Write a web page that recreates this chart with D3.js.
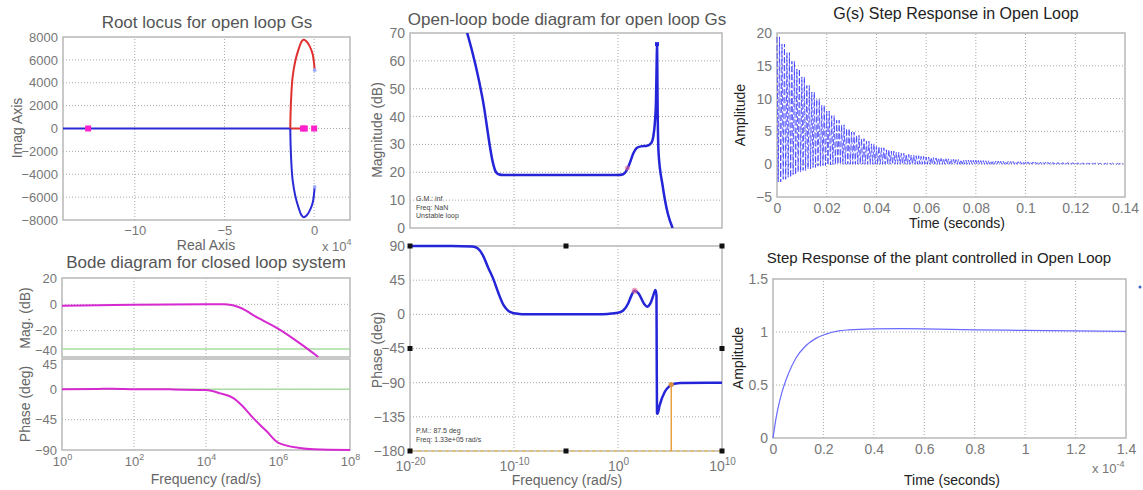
<!DOCTYPE html>
<html>
<head>
<meta charset="utf-8">
<script src="https://cdn.jsdelivr.net/npm/d3@7"></script>
<style>
  body { margin: 0; background: #fff; }
  svg { display: block; font-family: "Liberation Sans", Arial, sans-serif; }
</style>
</head>
<body>
<svg width="1143" height="490"></svg>
<script>
(function (d3) {
  'use strict';

  // ---- root locus (real part in units of 1e4) ----
  var rlPoles = [-12.6, -0.62, -0.52, 0];
  var rlAxisBlue = [-14, -1.33];
  var rlAxisRed = [-1.33, -0.6];
  var rlRe = [-1.33, -1.31, -1.27, -1.2, -1.05, -0.85, -0.7, -0.58, -0.42, -0.25, -0.08, 0.03];
  var rlIm = [0, 1500, 3000, 4500, 5900, 7000, 7600, 7750, 7600, 7200, 6500, 5100];

  // ---- closed loop bode ----
  var clMagExp = [0, 1, 2, 3, 4, 4.5, 4.7, 4.9, 5.1, 5.3, 5.6, 6, 6.6, 7.12];
  var clMag = [-1, -0.7, -0.3, -0.1, 0, 0, -0.5, -2, -4.5, -8, -12.5, -18.5, -29.5, -40];
  var clPhExp = [0, 1, 1.4, 2, 3, 4, 4.4, 4.76, 5, 5.3, 5.7, 6, 6.6, 7, 8];
  var clPh = [0, 0.5, 1, 0.3, 0, -1, -6, -13, -24, -42, -63, -79, -87, -89, -90];
  var clMagRef = -34, clPhRef = 0;

  // ---- open loop bode ----
  var olMagExp = [-15, -14.5, -13, -12, -11.8, -11.5, -11, -5, 0, 0.5, 0.8, 1.1, 1.5, 1.8, 2.2, 2.8, 3.2, 3.4, 3.55, 3.65, 3.72, 3.75, 3.82, 3.9, 4.3, 4.8, 5.25];
  var olMag = [76, 70, 46, 23, 20.5, 19.3, 19, 19, 19, 19.3, 20.5, 23, 27, 28.7, 29.3, 29.5, 30.5, 33, 38, 45, 60, 66, 40, 27, 15, 5, 0];
  var olPhExp = [-20, -16, -14, -13.5, -13, -12.5, -12, -11.5, -11, -10.5, -10, -9.5, -9, -5, -2, -1, 0, 0.5, 1, 1.3, 1.6, 2, 2.5, 2.8, 3.1, 3.4, 3.6, 3.7, 3.72, 3.75, 3.8, 4, 4.5, 5, 5.12, 6, 10];
  var olPh = [90, 90, 89.5, 87, 78, 62, 47, 28, 12, 4, 1.5, 0.5, 0, 0, 0, 0.5, 2, 5, 15, 25, 31, 27, 14, 10, 14, 25, 32, 25, -45, -130, -131, -120, -102, -94, -92.5, -90.5, -90];
  var olPmExp = 5.12, olPmPh = -92.5;
  var olHandleExp = [-20, -5, 10, -20, 10, -20, -5, 10];
  var olHandlePh = [90, 90, 90, -45, -45, -180, -180, -180];

  // ---- G(s) step response, envelope sampled every 2 ms ----
  var gsDt = 0.002;
  var gsUpper = [19.4, 18.3, 17.0, 15.7, 14.5, 13.3, 12.0, 11.0, 9.9, 9.0, 8.1, 7.4, 6.7, 6.0, 5.4, 4.9, 4.4, 3.9, 3.5, 3.1,
    2.7, 2.5, 2.2, 2.0, 1.8, 1.65, 1.5, 1.4, 1.3, 1.2, 1.1, 1.0, 0.95, 0.88, 0.82, 0.76, 0.7, 0.66, 0.62, 0.6,
    0.58, 0.55, 0.52, 0.5, 0.47, 0.45, 0.43, 0.41, 0.39, 0.37, 0.35, 0.34, 0.32, 0.31, 0.3, 0.28, 0.27, 0.26, 0.25, 0.24,
    0.22, 0.21, 0.2, 0.19, 0.18, 0.17, 0.16, 0.15, 0.14, 0.13];
  var gsLower = [-2.7, -2.3, -2.0, -1.6, -1.2, -0.95, -0.7, -0.5, -0.3, -0.2, -0.1, -0.05, 0, 0, 0, 0, 0, 0, 0, 0,
    0, 0, 0, 0, 0, 0, 0, 0, 0, 0, 0, 0, 0, 0, 0, 0, 0, 0, 0, 0,
    0, 0, 0, 0, 0, 0, 0, 0, 0, 0, 0, 0, 0, 0, 0, 0, 0, 0, 0, 0,
    0, 0, 0, 0, 0, 0, 0, 0, 0, 0];
  var gsSwingsPerSample = 2;

  // ---- plant step response (time in units of 1e-4 s) ----
  var plT = [0, 0.013, 0.033, 0.06, 0.09, 0.13, 0.17, 0.21, 0.26, 0.3, 0.4, 0.5, 0.6, 0.8, 1.0, 1.2, 1.4];
  var plY = [0, 0.2, 0.41, 0.6, 0.75, 0.87, 0.94, 0.98, 1.01, 1.02, 1.03, 1.032, 1.03, 1.02, 1.015, 1.01, 1.005];

  var svg = d3.select("svg");
  var gridCol = "#a8a8a8", boxCol = "#b8b8b8", tickCol = "#777";

  function frame(x, y, xGrid, yGrid) {
    var g = svg.append("g");
    var x0 = x.range()[0], x1 = x.range()[1], y0 = y.range()[0], y1 = y.range()[1];
    g.selectAll(".vg").data(xGrid).enter().append("line")
      .attr("x1", function (d) { return x(d); }).attr("x2", function (d) { return x(d); })
      .attr("y1", y0).attr("y2", y1)
      .attr("stroke", gridCol).attr("stroke-dasharray", "1,2");
    g.selectAll(".hg").data(yGrid).enter().append("line")
      .attr("y1", function (d) { return y(d); }).attr("y2", function (d) { return y(d); })
      .attr("x1", x0).attr("x2", x1)
      .attr("stroke", gridCol).attr("stroke-dasharray", "1,2");
    g.append("rect").attr("x", x0).attr("y", y1).attr("width", x1 - x0).attr("height", y0 - y1)
      .attr("fill", "none").attr("stroke", boxCol).attr("stroke-width", 1.5);
    return g;
  }

  function axisText(sel, size) {
    sel.select(".domain").remove();
    sel.attr("font-size", size).attr("font-family", null);
    sel.selectAll(".tick text").attr("fill", tickCol);
  }

  function leftAxis(y, vals, xPos, size) {
    return svg.append("g").attr("transform", "translate(" + xPos + ",0)")
      .call(d3.axisLeft(y).tickValues(vals).tickSize(0).tickPadding(4).tickFormat(d3.format("")))
      .call(axisText, size);
  }

  function bottomAxis(x, vals, yPos, size, fmt) {
    return svg.append("g").attr("transform", "translate(0," + yPos + ")")
      .call(d3.axisBottom(x).tickValues(vals).tickSize(0).tickPadding(6).tickFormat(fmt || d3.format("")))
      .call(axisText, size);
  }

  function logAxis(x, vals, yPos, size, pad) {
    var g = svg.append("g").attr("transform", "translate(0," + yPos + ")")
      .call(d3.axisBottom(x).tickValues(vals).tickSize(0).tickPadding(pad).tickFormat(function () { return ""; }))
      .call(axisText, size);
    g.selectAll(".tick text").each(function (d) {
      var t = d3.select(this);
      t.append("tspan").text("10");
      t.append("tspan").attr("dy", -6).attr("font-size", size - 4)
        .text(Math.round(Math.log10(d)));
    });
    return g;
  }

  function label(txt, x, y, size, col, rot) {
    return svg.append("text").attr("x", x).attr("y", y).attr("text-anchor", "middle")
      .attr("font-size", size).attr("fill", col)
      .attr("transform", rot ? "rotate(-90," + x + "," + y + ")" : null)
      .text(txt);
  }

  function exponentLabel(base, exp, x, y) {
    var t = svg.append("text").attr("x", x).attr("y", y).attr("font-size", 13).attr("fill", tickCol);
    t.append("tspan").text(base);
    t.append("tspan").attr("dy", -6).attr("font-size", 9).text(exp);
  }

  function pairs(a, b) { return a.map(function (v, i) { return [v, b[i]]; }); }

  // ================= Root locus =================
  (function () {
    var x = d3.scaleLinear().domain([-14, 2]).range([63, 350]);
    var y = d3.scaleLinear().domain([-8000, 8000]).range([220, 37]);
    frame(x, y, [-10, -5, 0], d3.range(-6000, 8000, 2000));
    leftAxis(y, d3.range(-8000, 8001, 2000), 62, 13);
    bottomAxis(x, [-10, -5, 0], 220, 13);
    var line = d3.line().x(function (d) { return x(d[0]); }).y(function (d) { return y(d[1]); }).curve(d3.curveCatmullRom);
    var g = svg.append("g");
    g.append("path").attr("d", line(rlAxisBlue.map(function (v) { return [v, 0]; })))
      .attr("stroke", "#2a2ad8").attr("stroke-width", 2).attr("fill", "none");
    g.append("path").attr("d", line(rlAxisRed.map(function (v) { return [v, 0]; })))
      .attr("stroke", "#e03030").attr("stroke-width", 2).attr("fill", "none");
    g.append("path").attr("d", line(pairs(rlRe, rlIm)))
      .attr("stroke", "#e03030").attr("stroke-width", 2).attr("fill", "none");
    g.append("path").attr("d", line(pairs(rlRe, rlIm.map(function (v) { return -v; }))))
      .attr("stroke", "#2a2ad8").attr("stroke-width", 2).attr("fill", "none");
    g.selectAll(".pole").data(rlPoles).enter().append("rect")
      .attr("x", function (d) { return x(d) - 3; }).attr("y", y(0) - 3)
      .attr("width", 6).attr("height", 6).attr("fill", "#ff22cc");
    g.selectAll(".end").data([rlIm[rlIm.length - 1], -rlIm[rlIm.length - 1]]).enter().append("circle")
      .attr("cx", x(rlRe[rlRe.length - 1])).attr("cy", function (d) { return y(d); })
      .attr("r", 1.8).attr("fill", "#9aa8ff");
    label("Root locus for open loop Gs", 207, 28, 17, "#555");
    label("Real Axis", 206, 250, 14, "#666");
    label("Imag Axis", 22, 128, 14, "#666", true);
    exponentLabel("x 10", "4", 322, 251);
  })();

  // ================= Closed loop bode =================
  (function () {
    var x = d3.scaleLog().domain([1, 1e8]).range([62, 350]);
    var ym = d3.scaleLinear().domain([-40, 20]).range([357, 278]);
    var yp = d3.scaleLinear().domain([-90, 45]).range([450, 359]);
    frame(x, ym, [1e2, 1e4, 1e6], [0, -20]);
    frame(x, yp, [1e2, 1e4, 1e6], [0, -45]);
    // -40 and 45 sit on the shared edge: push them apart
    leftAxis(ym, [20, 0, -20, -40], 61, 13)
      .selectAll(".tick text").filter(function (d) { return d === -40; })
      .attr("dy", null).attr("y", -3);
    leftAxis(yp, [45, 0, -45, -90], 61, 13)
      .selectAll(".tick text").filter(function (d) { return d === 45; })
      .attr("dy", null).attr("y", 9);
    logAxis(x, [1, 1e2, 1e4, 1e6, 1e8], 450, 13, 7);
    var g = svg.append("g");
    g.append("line").attr("x1", 62).attr("x2", 350).attr("y1", ym(clMagRef)).attr("y2", ym(clMagRef))
      .attr("stroke", "#a8dca0").attr("stroke-width", 1.5);
    g.append("line").attr("x1", 62).attr("x2", 350).attr("y1", yp(clPhRef)).attr("y2", yp(clPhRef))
      .attr("stroke", "#a8dca0").attr("stroke-width", 1.5);
    var lm = d3.line().x(function (d) { return x(Math.pow(10, d[0])); }).y(function (d) { return ym(d[1]); }).curve(d3.curveMonotoneX);
    var lp = d3.line().x(function (d) { return x(Math.pow(10, d[0])); }).y(function (d) { return yp(d[1]); }).curve(d3.curveMonotoneX);
    g.append("path").attr("d", lm(pairs(clMagExp, clMag))).attr("stroke", "#d62ad0").attr("stroke-width", 2).attr("fill", "none");
    g.append("path").attr("d", lp(pairs(clPhExp, clPh))).attr("stroke", "#d62ad0").attr("stroke-width", 2).attr("fill", "none");
    label("Bode diagram for closed loop system", 206, 268, 17, "#555");
    label("Mag. (dB)", 30, 318, 14, "#666", true);
    label("Phase (deg)", 30, 404, 14, "#666", true);
    label("Frequency (rad/s)", 206, 484, 14, "#666");
  })();

  // ================= Open loop bode =================
  (function () {
    var x = d3.scaleLog().domain([1e-20, 1e10]).range([410, 722]);
    var ym = d3.scaleLinear().domain([0, 70]).range([228, 33]);
    var yp = d3.scaleLinear().domain([-180, 90]).range([451, 246]);
    frame(x, ym, [1e-10, 1], d3.range(10, 70, 10));
    frame(x, yp, [1e-10, 1], [45, 0, -45, -90, -135]);
    leftAxis(ym, d3.range(0, 71, 10), 409, 14);
    leftAxis(yp, [90, 45, 0, -45, -90, -135, -180], 409, 14);
    logAxis(x, [1e-20, 1e-10, 1, 1e10], 451, 14, 10);

    var clipM = svg.append("clipPath").attr("id", "clipM");
    clipM.append("rect").attr("x", 410).attr("y", 33).attr("width", 312).attr("height", 195);
    var lm = d3.line().x(function (d) { return x(Math.pow(10, d[0])); }).y(function (d) { return ym(d[1]); }).curve(d3.curveMonotoneX);
    var lp = d3.line().x(function (d) { return x(Math.pow(10, d[0])); }).y(function (d) { return yp(d[1]); }).curve(d3.curveMonotoneX);
    var g = svg.append("g");
    g.append("path").attr("clip-path", "url(#clipM)").attr("d", lm(pairs(olMagExp, olMag)))
      .attr("stroke", "#2424d8").attr("stroke-width", 2.5).attr("fill", "none");
    // phase margin markers
    g.append("line").attr("x1", 410).attr("x2", 722).attr("y1", yp(-180)).attr("y2", yp(-180))
      .attr("stroke", "#e0c080").attr("stroke-width", 2).attr("stroke-dasharray", "4,3");
    g.append("line").attr("x1", x(Math.pow(10, olPmExp))).attr("x2", x(Math.pow(10, olPmExp)))
      .attr("y1", yp(-180)).attr("y2", yp(olPmPh)).attr("stroke", "#eaa040").attr("stroke-width", 1.5);
    g.append("path").attr("d", lp(pairs(olPhExp, olPh)))
      .attr("stroke", "#2424d8").attr("stroke-width", 2.5).attr("fill", "none");
    g.append("circle").attr("cx", x(Math.pow(10, olPmExp))).attr("cy", yp(olPmPh)).attr("r", 2.5).attr("fill", "#d89040");
    g.append("circle").attr("cx", x(Math.pow(10, 1.6))).attr("cy", yp(31)).attr("r", 3).attr("fill", "#e86090").attr("opacity", 0.6);
    g.append("circle").attr("cx", x(Math.pow(10, 0.9))).attr("cy", ym(21.5)).attr("r", 2.5).attr("fill", "#e86090").attr("opacity", 0.6);
    g.append("rect").attr("x", x(Math.pow(10, 3.75)) - 2).attr("y", ym(66) - 2).attr("width", 4).attr("height", 4).attr("fill", "#2424d8");
    g.selectAll(".hnd").data(pairs(olHandleExp, olHandlePh)).enter().append("rect")
      .attr("x", function (d) { return x(Math.pow(10, d[0])) - 2.5; })
      .attr("y", function (d) { return yp(d[1]) - 2.5; })
      .attr("width", 5).attr("height", 5).attr("fill", "#111");
    var notes1 = ["G.M.: inf", "Freq: NaN", "Unstable loop"];
    svg.append("g").selectAll("text").data(notes1).enter().append("text")
      .attr("x", 416).attr("y", function (d, i) { return 201 + i * 8.5; })
      .attr("font-size", 7).attr("fill", "#444").text(function (d) { return d; });
    var notes2 = ["P.M.: 87.5 deg", "Freq: 1.33e+05 rad/s"];
    svg.append("g").selectAll("text").data(notes2).enter().append("text")
      .attr("x", 416).attr("y", function (d, i) { return 433 + i * 8.5; })
      .attr("font-size", 7).attr("fill", "#444").text(function (d) { return d; });
    label("Open-loop bode diagram for open loop Gs", 567, 25, 17, "#555");
    label("Magnitude (dB)", 382, 130, 14, "#666", true);
    label("Phase (deg)", 382, 350, 14, "#666", true);
    label("Frequency (rad/s)", 567, 485, 14, "#666");
  })();

  // ================= G(s) step response =================
  (function () {
    var x = d3.scaleLinear().domain([0, 0.14]).range([777, 1125]);
    var y = d3.scaleLinear().domain([-5, 20]).range([197, 33]);
    frame(x, y, d3.range(0.02, 0.14, 0.02), [0, 5, 10, 15]);
    leftAxis(y, d3.range(-5, 21, 5), 776, 14);
    bottomAxis(x, d3.range(0, 0.1401, 0.02), 197, 14, d3.format("~g"));
    // fast oscillation drawn between the sampled upper and lower envelopes
    var pts = [];
    var sub = gsDt / gsSwingsPerSample;
    gsUpper.forEach(function (u, i) {
      for (var k = 0; k < gsSwingsPerSample; k++) {
        pts.push([i * gsDt + k * sub, u]);
        pts.push([i * gsDt + k * sub + sub / 2, gsLower[i]]);
      }
    });
    var line = d3.line().x(function (d) { return x(d[0]); }).y(function (d) { return y(d[1]); });
    svg.append("path").attr("d", line(pts))
      .attr("stroke", "#3a3aff").attr("stroke-width", 0.8).attr("fill", "none")
      .attr("stroke-dasharray", "6,2");
    label("G(s) Step Response in Open Loop", 956, 19, 16, "#222");
    label("Time (seconds)", 957, 228, 14, "#222");
    label("Amplitude", 745, 115, 14, "#222", true);
  })();

  // ================= Plant step response =================
  (function () {
    var x = d3.scaleLinear().domain([0, 1.4]).range([773, 1126]);
    var y = d3.scaleLinear().domain([0, 1.5]).range([438, 279]);
    frame(x, y, d3.range(0.2, 1.4, 0.2), [0.5, 1]);
    leftAxis(y, [0, 0.5, 1, 1.5], 772, 14);
    bottomAxis(x, d3.range(0, 1.401, 0.2), 438, 14, d3.format("~g"));
    var line = d3.line().x(function (d) { return x(d[0]); }).y(function (d) { return y(d[1]); }).curve(d3.curveMonotoneX);
    svg.append("path").attr("d", line(pairs(plT, plY)))
      .attr("stroke", "#6a6aff").attr("stroke-width", 1.2).attr("fill", "none");
    svg.append("circle").attr("cx", 1140).attr("cy", 287).attr("r", 1.5).attr("fill", "#4060c0");
    label("Step Response of the plant controlled in Open Loop", 939, 263, 15, "#222");
    label("Time (seconds)", 952, 485, 14, "#222");
    label("Amplitude", 743, 358, 14, "#222", true);
    exponentLabel("x 10", "-4", 1092, 473);
  })();

}(d3));
</script>
</body>
</html>
